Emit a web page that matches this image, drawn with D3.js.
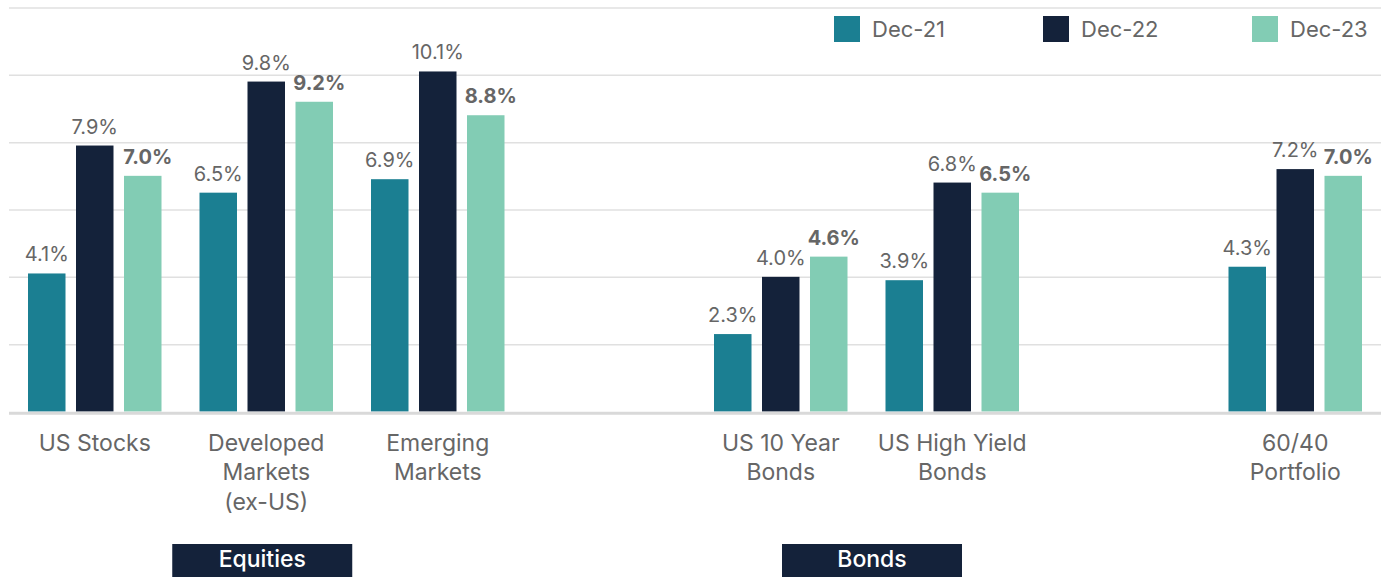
<!DOCTYPE html>
<html>
<head>
<meta charset="utf-8">
<script src="https://cdn.jsdelivr.net/npm/d3@7"></script>
<style>
  html, body { margin: 0; padding: 0; background: #fff; }
  svg { display: block; font-family: Inter, "Open Sans", sans-serif; }
</style>
</head>
<body>
<svg id="chart" width="1386" height="577"></svg>
<script>
// ---- data ----
const categories = ["US Stocks", "Developed Markets (ex-US)", "Emerging Markets", "US 10 Year Bonds", "US High Yield Bonds", "60/40 Portfolio"];
const categoryLines = [["US Stocks"], ["Developed", "Markets", "(ex-US)"], ["Emerging", "Markets"], ["US 10 Year", "Bonds"], ["US High Yield", "Bonds"], ["60/40", "Portfolio"]];
const series = ["Dec-21", "Dec-22", "Dec-23"];
const dec21 = [4.1, 6.5, 6.9, 2.3, 3.9, 4.3];
const dec22 = [7.9, 9.8, 10.1, 4.0, 6.8, 7.2];
const dec23 = [7.0, 9.2, 8.8, 4.6, 6.5, 7.0];
const yTicks = [0, 2, 4, 6, 8, 10, 12];
const groups = ["Equities", "Bonds"];
const groupMembers = [["US Stocks", "Developed Markets (ex-US)", "Emerging Markets"], ["US 10 Year Bonds", "US High Yield Bonds"]];

// ---- layout / style ----
const slots = ["US Stocks", "Developed Markets (ex-US)", "Emerging Markets", "_gap1", "US 10 Year Bonds", "US High Yield Bonds", "_gap2", "60/40 Portfolio"];
const colors = { "Dec-21": "#1b7f92", "Dec-22": "#14223a", "Dec-23": "#82ccb4" };
const groupDx = [-4, 5.5];
const values = { "Dec-21": dec21, "Dec-22": dec22, "Dec-23": dec23 };

const svg = d3.select("#chart");

const x = d3.scaleBand().domain(slots).range([9, 1381]).paddingInner(0).paddingOuter(0);
const x1 = d3.scaleBand().domain(series).range([-66.75, 66.75]).paddingInner(0.21875).paddingOuter(0);
const y = d3.scaleLinear().domain([0, 12]).range([411.5, 7.5]);

// gridlines via axis
const grid = svg.append("g")
  .attr("transform", "translate(9,0)")
  .call(d3.axisLeft(y).tickValues(yTicks).tickSize(-1372).tickFormat(""));
grid.select(".domain").remove();
grid.selectAll(".tick line").attr("stroke", "#e0e0e0").attr("stroke-width", 1.5);
grid.selectAll(".tick").filter(d => d === 0).remove();

// bars
const rows = categories.map((c, i) => ({ cat: c, i }));
const gCat = svg.append("g").selectAll("g").data(rows).join("g")
  .attr("transform", d => `translate(${x(d.cat) + x.bandwidth() / 2},0)`);

gCat.selectAll("rect").data(d => series.map(s => ({ s, v: values[s][d.i] }))).join("rect")
  .attr("x", d => x1(d.s))
  .attr("width", x1.bandwidth())
  .attr("y", d => y(d.v))
  .attr("height", d => y(0) - y(d.v))
  .attr("fill", d => colors[d.s]);

gCat.selectAll("text.val").data(d => series.map(s => ({ s, v: values[s][d.i] }))).join("text")
  .attr("class", "val")
  .attr("x", d => x1(d.s) + x1.bandwidth() / 2 + (d.s === "Dec-23" ? 5 : 0))
  .attr("y", d => y(d.v) - 12)
  .attr("text-anchor", "middle")
  .attr("font-size", 20)
  .attr("font-weight", d => d.s === "Dec-23" ? 700 : 400)
  .attr("fill", "#666")
  .text(d => d.v.toFixed(1) + "%");

// baseline
svg.append("line")
  .attr("x1", 9).attr("x2", 1381)
  .attr("y1", y(0) + 1.8).attr("y2", y(0) + 1.8)
  .attr("stroke", "#d9d9d9").attr("stroke-width", 3);

// category labels
gCat.append("text")
  .attr("text-anchor", "middle")
  .attr("font-size", 23)
  .attr("fill", "#666")
  .selectAll("tspan").data(d => categoryLines[d.i]).join("tspan")
  .attr("x", 0)
  .attr("y", (d, j) => 450.5 + j * 29.5)
  .text(d => d);

// legend
const leg = svg.append("g").selectAll("g").data(series).join("g")
  .attr("transform", (d, i) => `translate(${834 + i * 209},16)`);
leg.append("rect").attr("width", 26).attr("height", 26).attr("fill", d => colors[d]);
leg.append("text").attr("x", 38).attr("y", 20.5).attr("font-size", 22).attr("fill", "#666").text(d => d);

// group boxes
const gg = svg.append("g").selectAll("g").data(groups).join("g")
  .attr("transform", (d, i) => {
    const m = groupMembers[i];
    const cx = (x(m[0]) + x(m[m.length - 1]) + x.bandwidth()) / 2 + groupDx[i];
    return `translate(${cx},544)`;
  });
gg.append("rect").attr("x", -90).attr("width", 180).attr("height", 33).attr("fill", "#14223a");
gg.append("text").attr("text-anchor", "middle").attr("y", 22.5).attr("font-size", 23).attr("font-weight", 500).attr("fill", "#fff").text(d => d);
</script>
</body>
</html>
